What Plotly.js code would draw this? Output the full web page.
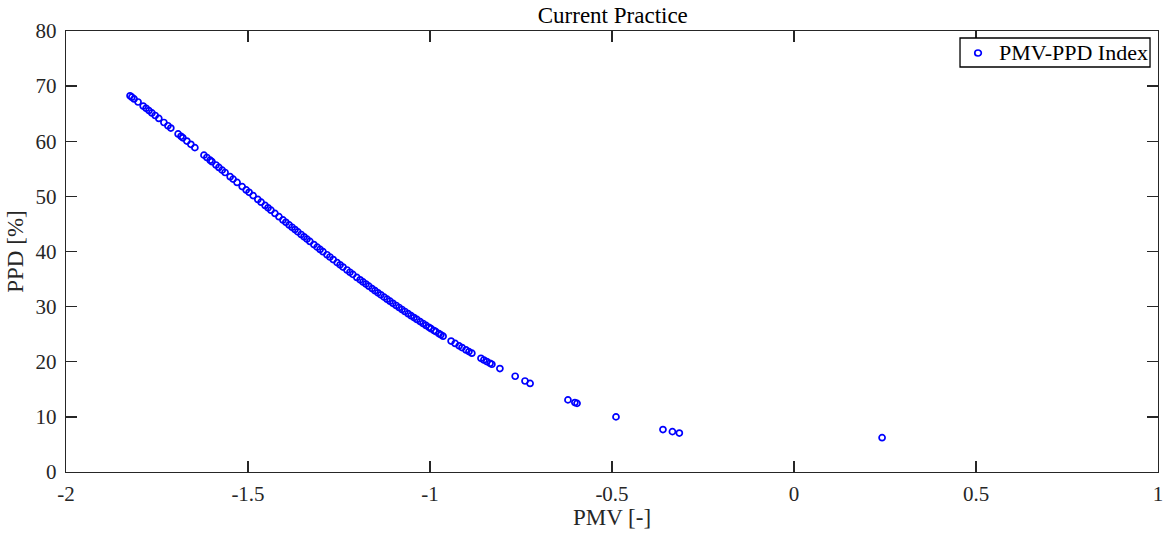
<!DOCTYPE html>
<html>
<head>
<meta charset="utf-8">
<script src="https://cdn.plot.ly/plotly-3.0.1.min.js"></script>
<style>html,body{margin:0;padding:0;background:#fff;}#chart{width:1165px;height:538px;}</style>
</head>
<body>
<div id="chart"></div>
<script>
// PMV values
const pmv = [
  -1.824, -1.819, -1.813, -1.802, -1.788, -1.780, -1.772, -1.764, -1.755, -1.745,
  -1.731, -1.720, -1.712, -1.692, -1.684, -1.679, -1.668, -1.657, -1.646, -1.621,
  -1.613, -1.604, -1.599, -1.588, -1.580, -1.571, -1.563, -1.549, -1.541, -1.530,
  -1.516, -1.505, -1.497, -1.486, -1.473, -1.464, -1.453, -1.445, -1.437, -1.426,
  -1.415, -1.404, -1.396, -1.387, -1.379, -1.371, -1.363, -1.354, -1.346, -1.338,
  -1.330, -1.319, -1.310, -1.302, -1.294, -1.283, -1.275, -1.266, -1.255, -1.247,
  -1.239, -1.228, -1.220, -1.212, -1.201, -1.192, -1.184, -1.176, -1.168, -1.159,
  -1.151, -1.143, -1.135, -1.126, -1.118, -1.110, -1.102, -1.093, -1.085, -1.077,
  -1.069, -1.060, -1.052, -1.044, -1.036, -1.027, -1.019, -1.011, -1.003, -0.997,
  -0.989, -0.984, -0.975, -0.970, -0.964, -0.942, -0.931, -0.920, -0.912, -0.901,
  -0.893, -0.885, -0.860, -0.852, -0.844, -0.835, -0.830, -0.808, -0.766, -0.739,
  -0.725, -0.621, -0.602, -0.596, -0.489, -0.360, -0.334, -0.315, 0.242
];
// PPD values
const ppd = [
  68.24, 67.99, 67.68, 67.12, 66.39, 65.98, 65.56, 65.14, 64.67, 64.14,
  63.40, 62.81, 62.39, 61.32, 60.89, 60.62, 60.03, 59.44, 58.84, 57.48,
  57.05, 56.56, 56.29, 55.69, 55.25, 54.76, 54.33, 53.57, 53.13, 52.53,
  51.77, 51.17, 50.74, 50.14, 49.44, 48.95, 48.35, 47.92, 47.49, 46.90,
  46.31, 45.72, 45.30, 44.82, 44.40, 43.98, 43.56, 43.08, 42.66, 42.25,
  41.83, 41.26, 40.79, 40.37, 39.97, 39.41, 39.00, 38.54, 37.98, 37.58,
  37.18, 36.64, 36.24, 35.85, 35.30, 34.86, 34.48, 34.09, 33.71, 33.27,
  32.89, 32.51, 32.14, 31.72, 31.35, 30.98, 30.60, 30.20, 29.84, 29.48,
  29.12, 28.72, 28.36, 28.01, 27.67, 27.28, 26.94, 26.59, 26.25, 26.00,
  25.67, 25.46, 25.09, 24.88, 24.64, 23.75, 23.32, 22.88, 22.57, 22.14,
  21.84, 21.55, 20.62, 20.32, 20.04, 19.72, 19.55, 18.77, 17.37, 16.51,
  16.07, 13.08, 12.60, 12.45, 10.00, 7.70, 7.32, 7.06, 6.22
];
const xTicks = [-2, -1.5, -1, -0.5, 0, 0.5, 1];
const xTickText = ['-2', '-1.5', '-1', '-0.5', '0', '0.5', '1'];
const yTicks = [0, 10, 20, 30, 40, 50, 60, 70, 80];
const seriesName = 'PMV-PPD Index';

const FONT = 'Liberation Serif, Times New Roman, serif';
const AX = '#262626';
const BLUE = '#0000ff';

const trace = {
  x: pmv, y: ppd, type: 'scatter', mode: 'markers', name: seriesName,
  marker: {symbol: 'circle-open', size: 6, color: BLUE, line: {width: 1.7, color: BLUE}}
};

const axisCommon = {
  showgrid: false, zeroline: false, showline: true, mirror: 'ticks',
  linecolor: AX, linewidth: 1.3, ticks: 'inside', ticklen: 11, tickwidth: 1.3,
  tickcolor: AX, tickfont: {family: FONT, size: 21, color: AX}
};

const layout = {
  width: 1165, height: 538,
  margin: {l: 66, r: 7, t: 31, b: 66},
  paper_bgcolor: '#fff', plot_bgcolor: '#fff',
  font: {family: FONT, color: AX},
  title: {text: 'Current Practice', font: {family: FONT, size: 23, color: '#000'}, x: 0.526, xanchor: 'center', y: 0.972, yanchor: 'middle'},
  xaxis: Object.assign({}, axisCommon, {
    range: [-2, 1], tickvals: xTicks, ticktext: xTickText, ticklabelstandoff: 2,
    title: {text: 'PMV [-]', font: {family: FONT, size: 23, color: AX}, standoff: 4}
  }),
  yaxis: Object.assign({}, axisCommon, {
    range: [0, 80], tickvals: yTicks, ticklabelstandoff: 4,
    title: {text: 'PPD [%]', font: {family: FONT, size: 23, color: AX}, standoff: 5}
  }),
  showlegend: false,
  // legend box drawn as decoration (tight MATLAB-style box)
  shapes: [
    {type: 'rect', xref: 'paper', yref: 'paper', x0: 0.8187, x1: 0.9927, y0: 0.9184, y1: 0.9841,
     line: {color: '#000', width: 1.3}, fillcolor: '#fff', layer: 'above'},
    {type: 'circle', xref: 'paper', yref: 'paper', x0: 0.8322, x1: 0.8382, y0: 0.9433, y1: 0.9569,
     line: {color: BLUE, width: 1.7}, fillcolor: 'rgba(0,0,0,0)', layer: 'above'}
  ],
  annotations: [
    {text: seriesName, xref: 'paper', yref: 'paper', x: 0.8526, y: 0.9513, xanchor: 'left', yanchor: 'middle',
     showarrow: false, font: {family: FONT, size: 22, color: '#000'}}
  ]
};

Plotly.newPlot('chart', [trace], layout, {staticPlot: true, displayModeBar: false});
</script>
</body>
</html>
